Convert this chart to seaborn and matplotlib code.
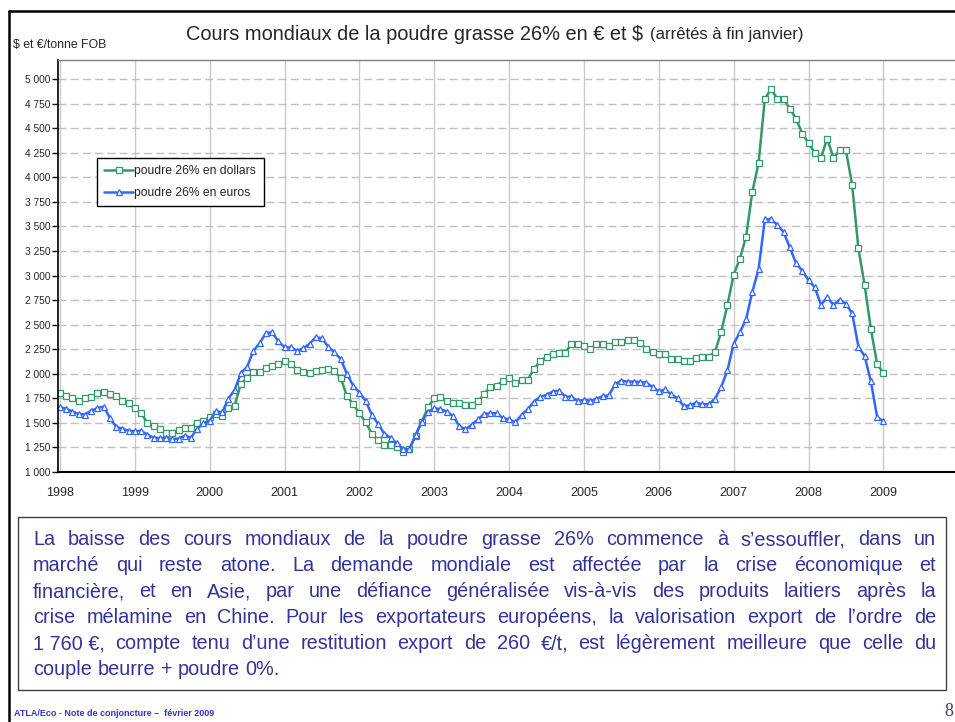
import numpy as np
import pandas as pd
import matplotlib
matplotlib.use("Agg")
import matplotlib.pyplot as plt
import seaborn as sns
from matplotlib.lines import Line2D
from matplotlib.patches import Rectangle
from matplotlib.ticker import FuncFormatter, MultipleLocator

W, H = 955, 722
GREEN = "#339966"
BLUE = "#3366FF"
TEXT_BLUE = "#333399"

# monthly prices, end of month, Jan 1998 -> Jan 2009 ($/t and EUR/t FOB)
first_month = "1998-01"
usd_t = [
    1800, 1770, 1750, 1725, 1750, 1760, 1800, 1810, 1790, 1770, 1725, 1700,  # 1998
    1650, 1600, 1500, 1465, 1440, 1400, 1395, 1430, 1445, 1450, 1500, 1520,  # 1999
    1560, 1590, 1570, 1650, 1675, 1900, 1955, 2020, 2020, 2057, 2075, 2095,  # 2000
    2127, 2100, 2042, 2015, 2003, 2025, 2043, 2050, 2025, 1957, 1774, 1690,  # 2001
    1600, 1506, 1390, 1322, 1278, 1275, 1258, 1200, 1231, 1367, 1513, 1657,  # 2002
    1750, 1765, 1725, 1705, 1700, 1685, 1685, 1720, 1790, 1870, 1880, 1925,  # 2003
    1955, 1910, 1935, 1940, 2050, 2130, 2175, 2205, 2215, 2215, 2300, 2300,  # 2004
    2285, 2252, 2300, 2300, 2283, 2327, 2327, 2345, 2348, 2312, 2252, 2218,  # 2005
    2200, 2200, 2150, 2150, 2125, 2125, 2165, 2170, 2175, 2220, 2425, 2700,  # 2006
    3007, 3173, 3396, 3853, 4147, 4797, 4899, 4797, 4797, 4699, 4597, 4445,  # 2007
    4350, 4249, 4198, 4394, 4198, 4273, 4273, 3921, 3275, 2902, 2456, 2101,  # 2008
    2006,                                                                    # 2009
]
eur_t = [
    1660, 1645, 1615, 1590, 1585, 1625, 1650, 1665, 1550, 1460, 1440, 1420,  # 1998
    1415, 1420, 1380, 1350, 1345, 1345, 1335, 1340, 1370, 1350, 1440, 1495,  # 1999
    1523, 1620, 1607, 1747, 1837, 2006, 2070, 2233, 2311, 2413, 2422, 2331,  # 2000
    2269, 2269, 2235, 2258, 2305, 2373, 2360, 2275, 2218, 2150, 1997, 1880,  # 2001
    1808, 1723, 1582, 1489, 1390, 1347, 1292, 1235, 1230, 1377, 1513, 1612,  # 2002
    1648, 1640, 1615, 1572, 1470, 1433, 1480, 1535, 1590, 1598, 1598, 1550,  # 2003
    1535, 1505, 1580, 1640, 1717, 1765, 1785, 1819, 1828, 1768, 1766, 1722,  # 2004
    1735, 1725, 1745, 1772, 1780, 1895, 1930, 1920, 1920, 1915, 1910, 1865,  # 2005
    1820, 1840, 1790, 1750, 1670, 1680, 1705, 1690, 1690, 1745, 1864, 2034,  # 2006
    2304, 2422, 2557, 2835, 3065, 3572, 3572, 3515, 3444, 3285, 3126, 3048,  # 2007
    2953, 2879, 2703, 2777, 2700, 2754, 2710, 2615, 2277, 2179, 1922, 1560,  # 2008
    1515,                                                                    # 2009
]
year_ticks = list(range(1998, 2010))

title_main = "Cours mondiaux de la poudre grasse 26% en € et $"
title_note = "(arrêtés à fin janvier)"
unit_label = "$ et €/tonne FOB"
label_usd = "poudre 26% en dollars"
label_eur = "poudre 26% en euros"
comment = [
    "La baisse des cours mondiaux de la poudre grasse 26% commence à s’essouffler, dans un",
    "marché qui reste atone. La demande mondiale est affectée par la crise économique et",
    "financière, et en Asie, par une défiance généralisée vis-à-vis des produits laitiers après la",
    "crise mélamine en Chine. Pour les exportateurs européens, la valorisation export de l’ordre de",
    "1\u00a0760\u00a0€, compte tenu d’une restitution export de 260 €/t, est légèrement meilleure que celle du",
    "couple beurre + poudre 0%.",
]
footer = "ATLA/Eco - Note de conjoncture –  février 2009"
page_no = "8"

months = pd.date_range(first_month, periods=len(usd_t), freq="MS")
df = pd.DataFrame({"t": months.year + (months.month - 1) / 12,
                   "usd": usd_t, "eur": eur_t})

sns.set_theme(style="white")
plt.rcParams["font.family"] = ["Liberation Sans", "DejaVu Sans"]


def fx(x):
    return x / W


def fy(y):
    return 1 - y / H


fig = plt.figure(figsize=(W / 100, H / 100), dpi=100)
ax = fig.add_axes([fx(58), fy(472), fx(W - 58), (472 - 60) / H])

sns.lineplot(data=df, x="t", y="usd", ax=ax, color=GREEN, lw=1.8, marker="s",
             ms=4.6, mfc="white", mec=GREEN, mew=0.9, label=label_usd)
sns.lineplot(data=df, x="t", y="eur", ax=ax, color=BLUE, lw=1.8, marker="^",
             ms=5.0, mfc="white", mec=BLUE, mew=0.9, label=label_eur)

ax.set_xlim(1998 - 2 / 74.85, 1998 - 2 / 74.85 + 897 / 74.85)
ax.set_ylim(1000, 5000 + 19 / 393 * 4000)
ax.set_xticks(year_ticks)
ax.yaxis.set_major_locator(MultipleLocator(250))
ax.yaxis.set_major_formatter(FuncFormatter(lambda v, p: f"{v:,.0f}".replace(",", " ")))
ax.set_xlabel("")
ax.set_ylabel("")
ax.set_axisbelow(True)
ax.grid(axis="y", color="#C0C0C0", lw=1, ls=(0, (5.8, 3)))
ax.grid(axis="x", color="#CACACA", lw=1, ls="-")
ax.tick_params(axis="y", left=True, length=4, width=1, direction="out", pad=1.5,
               labelsize=7.3, color="black")
ax.tick_params(axis="x", bottom=False, length=0, pad=11, labelsize=9)
for side, c, w in [("left", "black", 1.2), ("bottom", "black", 1.5), ("top", "#7F7F7F", 1.0)]:
    ax.spines[side].set_color(c)
    ax.spines[side].set_linewidth(w)
ax.spines["right"].set_visible(False)

ax.legend(loc="upper left", bbox_to_anchor=(fx(97), fy(158)), bbox_transform=fig.transFigure,
          borderaxespad=0, fontsize=8.7, frameon=True, fancybox=False, edgecolor="black",
          framealpha=1, handlelength=2.4, handletextpad=0.1, labelspacing=0.8,
          borderpad=0.6)
ax.get_legend().get_frame().set_linewidth(1)

renderer = fig.canvas.get_renderer()

# title in two sizes
t1 = fig.text(fx(186), fy(34), title_main, fontsize=14.4, va="center", ha="left")
x_end = t1.get_window_extent(renderer).x1
fig.text((x_end + 7) / W, fy(34), title_note, fontsize=12, va="center", ha="left")
fig.text(fx(13), fy(45), unit_label, fontsize=8.8, va="center", ha="left")

# comment box with justified lines (words placed on a common baseline)
fig.add_artist(Rectangle((fx(18), fy(690)), fx(946 - 18), (690 - 517) / H,
                         transform=fig.transFigure, fill=False, ec="#404040", lw=1))
x0, x1 = 33, 936
baselines = [545, 571, 597, 623, 649, 675]
fs_comment = 14.3
for k, (line, y) in enumerate(zip(comment, baselines)):
    words = line.split(" ")
    arts = [fig.text(0, fy(y), w, fontsize=fs_comment, color=TEXT_BLUE,
                     va="baseline", ha="left") for w in words]
    widths = [a.get_window_extent(renderer).width for a in arts]
    if k == len(comment) - 1:
        gap = 0.278 * fs_comment * 100 / 72
    else:
        gap = (x1 - x0 - sum(widths)) / (len(words) - 1)
    x = x0
    for a, wd in zip(arts, widths):
        a.set_x(fx(x))
        x += wd + gap

fig.text(fx(14), fy(714), footer, fontsize=6.5, weight="bold", color="#3333CC",
         va="center", ha="left")
fig.text(fx(944), fy(711), page_no, fontsize=13, color="#404060", va="center", ha="left",
         family=["Liberation Serif", "DejaVu Serif"])

# page frame (top and left edges)
fig.add_artist(Line2D([fx(8.5), 1], [fy(10.5), fy(10.5)], color="black", lw=1.8,
                      transform=fig.transFigure))
fig.add_artist(Line2D([fx(8.5), fx(8.5)], [fy(10.5), 0], color="black", lw=1.8,
                      transform=fig.transFigure))

fig.savefig("out.png", dpi=100)
